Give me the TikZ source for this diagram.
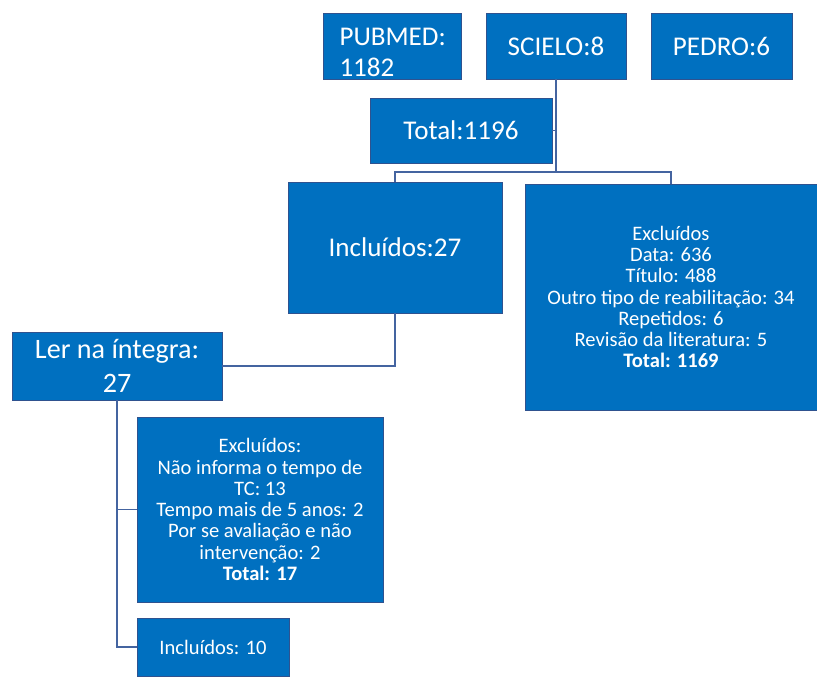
\documentclass[tikz,border=0pt]{standalone}
\usepackage{fontspec}
\setmainfont{Carlito}
\usepackage{tikz}

\definecolor{boxblue}{RGB}{0,112,192}
\definecolor{boxedge}{RGB}{47,82,143}
\definecolor{linkblue}{RGB}{68,100,160}

\begin{document}
\begin{tikzpicture}[
		x=0.02cm, y=-0.02cm,
		box/.style={draw=boxedge, line width=0.4pt, fill=boxblue, text=white, align=center, inner sep=2pt},
		boxsize/.style 2 args={minimum width=#1*0.02cm, minimum height=#2*0.02cm},
		big/.style={font=\fontsize{15.4}{17.6}\selectfont},
		bigger/.style={font=\fontsize{16}{19.5}\selectfont},
		small/.style={font=\fontsize{11.7}{12.1}\selectfont},
		link/.style={draw=linkblue, line width=1.1pt}
		]

	\useasboundingbox (0, 0) rectangle (817, 678);

	% Sources
	\node[box, big, boxsize={138}{66}, align=left, text width=2.1cm, text height=17.6pt, text depth=17.6pt, inner ysep=0pt] (pubmed) at (392, 46) {PUBMED:\\1182};
	\node[box, big, boxsize={140}{66}] (scielo) at (556, 46) {SCIELO:8};
	\node[box, big, boxsize={141}{66}] (pedro) at (721.5, 46) {PEDRO:6};

	% Total
	\node[box, big, boxsize={182}{65}] (total) at (461, 130.5) {Total:1196};
	\coordinate (split) at (556, 172);

	% First selection
	\node[box, big, boxsize={214}{131}] (incl) at (395, 247.5) {Inclu\'idos:27};
	\node[box, small, boxsize={292}{226}] (excl) at (671, 297) {Exclu\'idos\\Data: 636\\T\'itulo: 488\\Outro tipo de reabilita\c{c}\~ao: 34\\Repetidos: 6\\Revis\~ao da literatura: 5\\\textbf{Total: 1169}};

	% Full reading
	\node[box, bigger, boxsize={210}{68}] (ler) at (117, 366) {Ler na \'integra:\\27};
	\node[box, small, boxsize={246}{185}] (excl2) at (260, 509.5) {Exclu\'idos:\\N\~ao informa o tempo de\\TC: 13\\Tempo mais de 5 anos: 2\\Por se avalia\c{c}\~ao e n\~ao\\interven\c{c}\~ao: 2\\\textbf{Total: 17}};
	\node[box, small, boxsize={152}{58}] (incl10) at (213, 647) {Inclu\'idos: 10};

	% Links
	\draw[link] (scielo.south) -- (split);
	\draw[link] (total.east) -- (total.east -| split);
	\draw[link] (incl.north) |- (split) -| (excl.north);
	\draw[link] (incl.south) |- (ler.east);
	\draw[link] (ler.south) |- (excl2.west);
	\draw[link] (ler.south) |- (incl10.west);

\end{tikzpicture}
\end{document}
